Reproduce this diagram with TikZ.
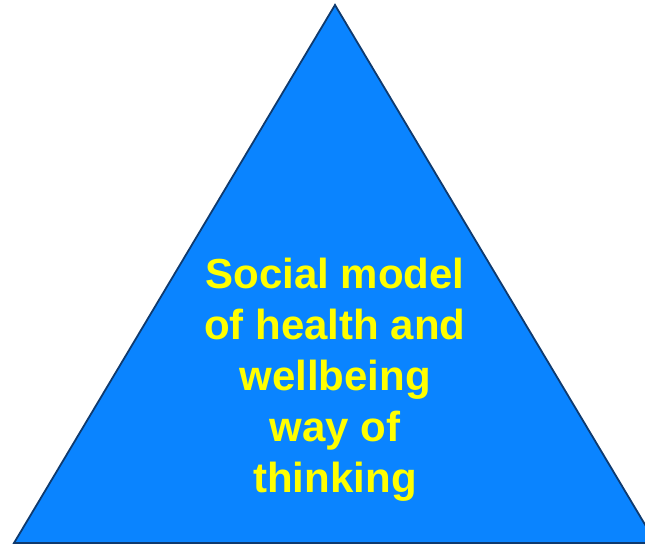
\documentclass[tikz,border=0pt]{standalone}
\usepackage{fontspec}
\setmainfont{Liberation Sans}
\definecolor{triblue}{HTML}{0A84FF}
\definecolor{triedge}{HTML}{0F3A6E}
\definecolor{labelyellow}{HTML}{FFFF00}
\begin{document}
\begin{tikzpicture}[x=1pt,y=1pt,
  pyramid/.style={fill=triblue,draw=triedge,line width=1.8pt,line join=miter},
  caption/.style={text=labelyellow,font=\fontsize{42}{51}\selectfont\bfseries,align=center,inner sep=0pt}]
  \useasboundingbox (0,0) rectangle (645,545);
  \clip (0,0) rectangle (645,545);
  \coordinate (apex) at (335,540);
  \coordinate (bl) at (14,2);
  \coordinate (br) at (656,2);
  \draw[pyramid] (apex) -- (bl) -- (br) -- cycle;
  % base anchor sits on the baseline of the last line
  \node[caption,anchor=base] (label) at (335,52)
    {Social model\\of health and\\wellbeing\\way of\\thinking};
\end{tikzpicture}
\end{document}
